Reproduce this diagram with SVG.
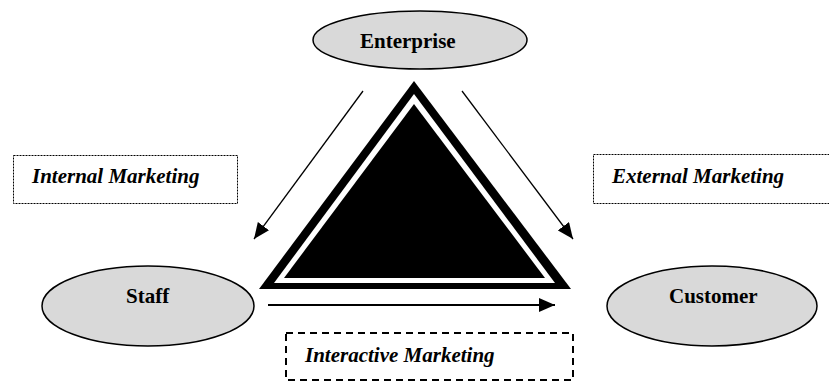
<svg xmlns="http://www.w3.org/2000/svg" width="829" height="383" viewBox="0 0 829 383">
<style>
.node ellipse{fill:#d9d9d9;stroke:#000;stroke-width:1.5}
.lbl{font-family:"Liberation Serif","Times New Roman",serif;font-weight:bold;font-size:21px;fill:#000}
.it{font-style:italic}
.dot{fill:none;stroke:#000;stroke-width:1;stroke-dasharray:2 1}
.dash{fill:none;stroke:#000;stroke-width:2;stroke-dasharray:7 5}
.conn{stroke:#000;fill:none}
</style>
<defs>
<marker id="ah" markerUnits="userSpaceOnUse" markerWidth="16" markerHeight="14" refX="16" refY="7" orient="auto">
<path d="M0,0 L16,7 L0,14 Z" fill="#000"/>
</marker>
</defs>
<rect width="829" height="383" fill="#fff"/>
<g id="triangle">
<polygon points="414,81 259,289 571,289" fill="#000"/>
<polygon points="414,94 274,283 555,283" fill="#fff"/>
<polygon points="414,104 284,278 545,278" fill="#000"/>
</g>
<g id="enterprise" class="node">
<ellipse cx="420" cy="40" rx="107" ry="29"/>
<text class="lbl" x="360" y="48">Enterprise</text>
</g>
<g id="staff" class="node">
<ellipse cx="148" cy="306" rx="106" ry="40"/>
<text class="lbl" x="126" y="303">Staff</text>
</g>
<g id="customer" class="node">
<ellipse cx="712" cy="306" rx="105" ry="40"/>
<text class="lbl" x="669" y="303">Customer</text>
</g>
<g id="internal">
<rect class="dot" x="13.5" y="155.5" width="224" height="48"/>
<text class="lbl it" x="32" y="183">Internal Marketing</text>
</g>
<g id="external">
<rect class="dot" x="593.5" y="154.5" width="245" height="49"/>
<text class="lbl it" x="612" y="183">External Marketing</text>
</g>
<g id="interactive">
<rect class="dash" x="286" y="333" width="287" height="47"/>
<text class="lbl it" x="305" y="362">Interactive Marketing</text>
</g>
<g id="connectors">
<line class="conn" x1="363" y1="91" x2="254" y2="239" stroke-width="1.3" marker-end="url(#ah)"/>
<line class="conn" x1="462" y1="91" x2="573" y2="239" stroke-width="1.3" marker-end="url(#ah)"/>
<line class="conn" x1="268" y1="305" x2="555" y2="305" stroke-width="2" marker-end="url(#ah)"/>
</g>
</svg>
